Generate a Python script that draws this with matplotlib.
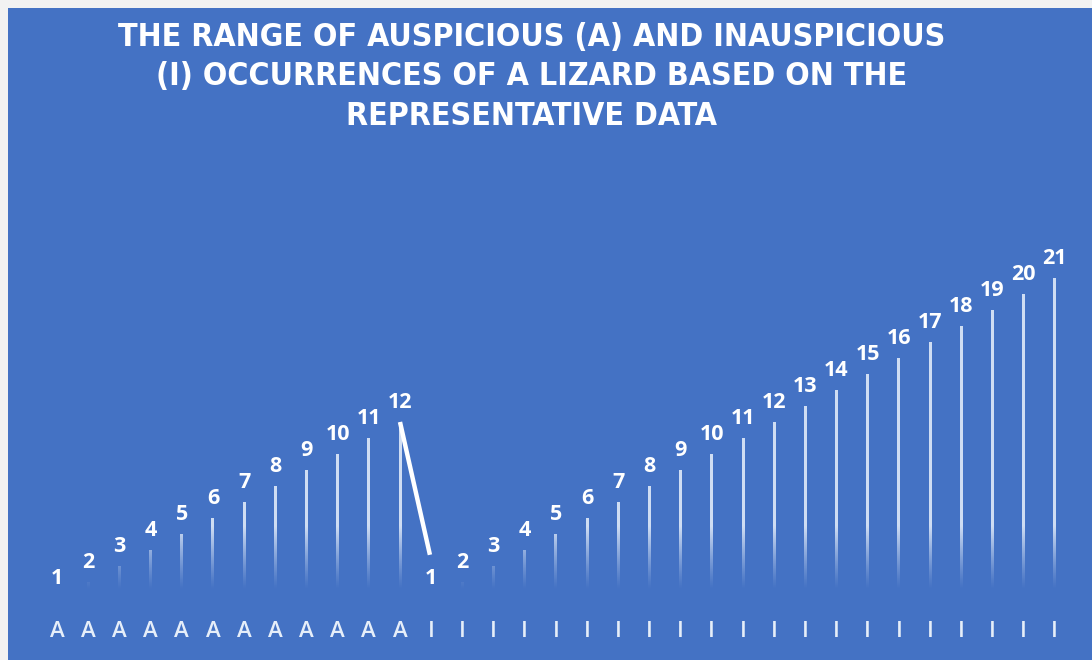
import numpy as np
import matplotlib
matplotlib.use("Agg")
from matplotlib import pyplot as plt
from matplotlib.patches import Rectangle

# categories and counts
a_counts = list(range(1, 13))
i_counts = list(range(1, 22))
categories = ["A"] * len(a_counts) + ["I"] * len(i_counts)
values = a_counts + i_counts

# the odd thick white stroke from the top of A12 down toward I1
link_x = [11, 11.96]
link_y = [12, 3.7]

title = ("THE RANGE OF AUSPICIOUS (A) AND INAUSPICIOUS\n"
         "(I) OCCURRENCES OF A LIZARD BASED ON THE\n"
         "REPRESENTATIVE DATA")

blue = "#4472c4"
ymin, ymax = 1.5, 23.375

fig = plt.figure(figsize=(10.92, 6.6), dpi=100, facecolor="#f2f2f2")
fig.patches.append(Rectangle((8 / 1092, 0), 1, 652 / 660, transform=fig.transFigure,
                             facecolor=blue, edgecolor="none", zorder=-5))

ax = fig.add_axes([41.4 / 1092, 70 / 660, 1029 / 1092, 350 / 660])
ax.set_zorder(2)
ax.set_facecolor("none")
x = np.arange(len(values))
ax.set_xlim(-0.5, len(values) - 0.5)
ax.set_ylim(ymin, ymax)

# thin bars with a fade toward the bottom
w = 0.09
for xi, v in zip(x, values):
    if v <= ymin:
        continue
    ys = np.linspace(ymin, v, 200)[::-1]
    alpha = np.clip((ys - ymin) / 4.0, 0, 1) ** 1.2 * 0.9
    img = np.zeros((len(ys), 1, 4))
    img[..., 0] = 0.88
    img[..., 1] = 0.92
    img[..., 2] = 0.98
    img[:, 0, 3] = alpha
    ax.imshow(img, extent=[xi - w / 2, xi + w / 2, ymin, v], aspect="auto",
              interpolation="bilinear", zorder=2)

for xi, v in zip(x, values):
    ax.annotate(str(v), (xi, v), xytext=(0, 14), textcoords="offset points",
                ha="center", va="center", color="white", fontsize=15.5,
                fontweight="bold", family="Open Sans", annotation_clip=False)

ax.plot(link_x, link_y, color="white", lw=3.2, solid_capstyle="butt", zorder=3)

ax.set_xticks(x)
ax.set_xticklabels(categories, color="#e6eef9", fontsize=16, family="Open Sans",
                   fontweight="semibold")
ax.tick_params(axis="x", length=0, pad=22)
ax.set_yticks([])
for s in ax.spines.values():
    s.set_visible(False)
ax.set_aspect("auto")

fig.text(532 / 1092, 1 - 77 / 660, title, ha="center", va="center", color="white",
         fontsize=23, fontweight="bold", family="DejaVu Sans", fontstretch="condensed",
         linespacing=1.36)

fig.savefig("out.png", dpi=100, facecolor=fig.get_facecolor())
